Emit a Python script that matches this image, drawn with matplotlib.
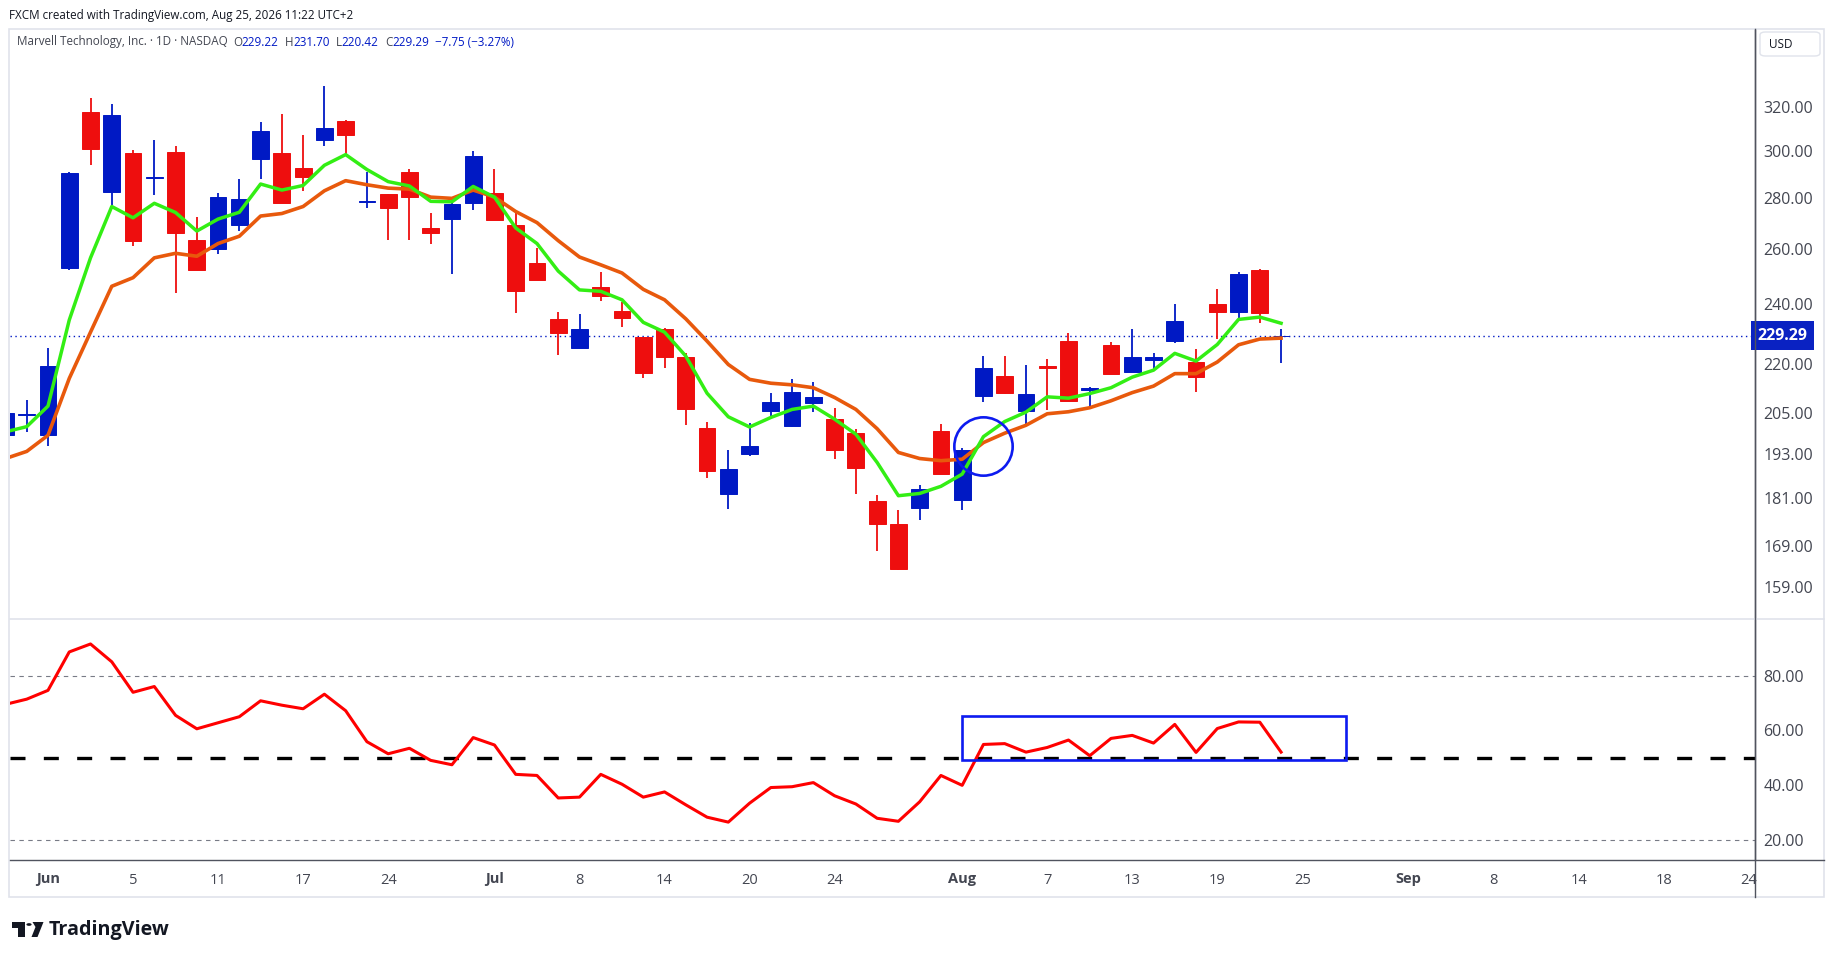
import numpy as np
import pandas as pd
import matplotlib
matplotlib.use("Agg")
import matplotlib.pyplot as plt
from matplotlib.patches import Rectangle, Polygon, Circle, FancyBboxPatch
from matplotlib.lines import Line2D
from matplotlib.ticker import NullLocator, NullFormatter, FixedLocator, FixedFormatter

# ---- data ----
first_date = "2026-05-28"
holidays = ["2026-06-19", "2026-07-03", "2026-09-07"]

opens = [198.6, 204.3, 198.6, 253.0, 317.5, 282.4, 299.1, 288.5, 299.5, 263.5,
         260.2, 269.5, 296.3, 299.1, 292.6, 305.0, 313.4, 278.6, 281.8, 291.0,
         268.2, 271.8, 278.3, 282.2, 269.4, 254.9, 235.0, 225.1, 246.2, 237.7,
         229.0, 231.7, 222.2, 200.5, 182.2, 193.1, 205.5, 201.1, 207.8, 203.1,
         199.0, 180.3, 174.4, 178.6, 199.6, 180.6, 210.1, 216.1, 205.5, 219.3,
         227.7, 212.0, 226.1, 217.4, 221.4, 227.5, 220.6, 240.3, 237.3, 252.4,
         229.22]
highs = [206.0, 208.8, 225.3, 291.0, 324.0, 321.1, 300.3, 304.8, 302.1, 272.5,
         282.2, 287.9, 312.9, 316.5, 307.0, 329.8, 313.9, 291.0, 281.8, 292.1,
         274.1, 278.0, 300.0, 292.1, 274.7, 260.5, 237.3, 236.6, 251.5, 240.7,
         229.0, 231.9, 223.5, 202.3, 194.2, 202.1, 210.9, 215.2, 214.5, 206.3,
         200.1, 181.9, 178.0, 184.5, 201.6, 194.9, 222.8, 222.6, 219.6, 221.8,
         230.1, 212.9, 227.2, 231.4, 223.7, 240.3, 225.0, 245.6, 251.6, 252.6,
         231.70]
lows = [197.0, 199.2, 195.2, 252.4, 293.9, 277.4, 261.3, 281.4, 244.0, 252.4,
        258.4, 267.1, 288.1, 278.3, 283.1, 302.1, 298.8, 276.1, 263.6, 263.6,
        262.2, 250.7, 275.4, 271.4, 237.1, 248.8, 223.0, 225.1, 241.3, 232.1,
        215.5, 218.8, 201.4, 186.5, 178.3, 192.4, 203.7, 200.8, 205.2, 191.6,
        182.1, 167.7, 163.2, 175.5, 187.6, 178.0, 208.2, 210.6, 201.8, 205.7,
        208.6, 207.0, 216.8, 217.4, 218.3, 227.0, 211.3, 228.2, 234.8, 233.6,
        220.42]
closes = [204.9, 204.6, 219.4, 290.5, 301.0, 316.1, 263.0, 288.9, 266.4, 252.4,
          280.5, 279.7, 308.8, 278.3, 288.9, 310.2, 307.1, 279.0, 276.1, 280.7,
          266.4, 277.7, 297.7, 271.4, 244.8, 248.8, 230.3, 231.6, 243.1, 235.4,
          217.3, 222.3, 206.1, 188.4, 188.8, 195.3, 208.1, 211.2, 209.6, 194.2,
          189.2, 174.5, 163.4, 183.4, 187.6, 194.2, 218.7, 211.0, 210.6, 218.8,
          208.6, 212.4, 216.8, 222.2, 222.2, 234.4, 215.9, 237.3, 251.0, 237.04,
          229.29]

ma_fast = [199.4, 200.9, 207.0, 234.6, 256.8, 276.7, 272.2, 278.0, 274.3, 267.0,
           271.7, 274.4, 285.9, 283.4, 285.3, 293.8, 298.4, 292.0, 286.9, 285.1,
           278.8, 278.6, 284.9, 280.5, 268.2, 262.2, 251.9, 245.1, 244.6, 241.6,
           233.8, 230.5, 222.6, 210.9, 203.8, 200.8, 203.6, 206.0, 207.0, 203.1,
           198.7, 190.7, 181.7, 182.3, 184.2, 187.5, 198.0, 202.4, 205.2, 209.8,
           209.4, 210.8, 212.6, 215.9, 218.1, 223.5, 221.0, 226.4, 234.8, 235.6,
           233.5]
ma_slow = [191.8, 193.8, 198.4, 215.5, 230.5, 246.4, 249.5, 256.8, 258.5, 257.4,
           262.2, 265.0, 272.9, 273.9, 276.7, 283.1, 287.3, 285.6, 284.2, 283.8,
           280.5, 280.0, 283.4, 280.5, 274.7, 270.3, 263.3, 257.1, 254.2, 251.2,
           245.3, 241.6, 235.0, 227.5, 219.9, 215.2, 214.0, 213.5, 212.6, 209.6,
           206.0, 200.3, 193.5, 191.8, 191.2, 191.6, 196.3, 199.0, 201.3, 204.7,
           205.3, 206.5, 208.6, 211.1, 213.1, 217.0, 217.0, 220.7, 226.3, 228.2,
           228.5]
rsi = [69.5, 71.4, 74.6, 88.6, 91.5, 85.0, 73.9, 76.0, 65.5, 60.6,
       62.8, 65.0, 70.8, 69.2, 67.9, 73.2, 67.2, 55.9, 51.5, 53.5,
       49.1, 47.5, 57.4, 54.7, 44.0, 43.6, 35.4, 35.7, 44.0, 40.4,
       35.7, 37.6, 32.9, 28.4, 26.6, 33.5, 39.2, 39.5, 41.0, 36.2,
       33.2, 28.0, 26.9, 34.0, 43.6, 40.0, 54.9, 55.2, 52.1, 53.8,
       56.5, 50.8, 57.1, 58.2, 55.4, 62.2, 52.0, 60.7, 63.1, 63.0,
       52.1]

tick_dates = ["2026-06-01", "2026-06-05", "2026-06-11", "2026-06-17", "2026-06-24",
              "2026-07-01", "2026-07-08", "2026-07-14", "2026-07-20", "2026-07-24",
              "2026-08-03", "2026-08-07", "2026-08-13", "2026-08-19", "2026-08-25",
              "2026-09-01", "2026-09-08", "2026-09-14", "2026-09-18", "2026-09-24"]
price_ticks = [159, 169, 181, 193, 205, 220, 240, 260, 280, 300, 320]
rsi_ticks = [20, 40, 60, 80]

circle_date, circle_price = "2026-08-04", 195.4
box_dates = ("2026-08-03", "2026-08-27")
box_rsi = (49.1, 65.3)

header = "FXCM created with TradingView.com, Aug 25, 2026 11:22 UTC+2"
symbol = "Marvell Technology, Inc. \u00b7 1D \u00b7 NASDAQ"

# ---- colours ----
UP = "#0019c4"
DOWN = "#ee0e0e"
GREEN = "#33ee14"
ORANGE = "#e8590c"
RSI_RED = "#ff0000"
MARK_BLUE = "#0d1bf0"
TEXT = "#131722"
GREY = "#434651"
FRAME = "#e0e3eb"
AXIS = "#50535e"

W, H = 1835, 959
plt.rcParams["font.family"] = ["Open Sans", "DejaVu Sans"]

# trading calendar -> bar index (Jun 1 = 0)
days = pd.bdate_range("2026-05-25", "2026-10-15")
days = days[~days.isin(pd.to_datetime(holidays))]
zero = days.get_loc(pd.Timestamp("2026-06-01"))


def bar_of(d):
    return days.get_loc(pd.Timestamp(d)) - zero


n = len(closes)
x = np.arange(n) + bar_of(first_date)
o, hi, lo, c = map(np.array, (opens, highs, lows, closes))


def fx(px):
    return px / W


def fy(py):
    return 1 - py / H


fig = plt.figure(figsize=(W / 100, H / 100), dpi=100)
fig.patch.set_facecolor("white")

# chart frame and pane geometry (pixels)
left, right, top, split, bottom = 10, 1755, 29, 618, 860
ax = fig.add_axes([fx(left), fy(split), fx(right - left), (split - top) / H])
ax2 = fig.add_axes([fx(left), fy(bottom), fx(right - left), (bottom - split - 1) / H], sharex=ax)

x_left = (left - 48) / 21.26
x_right = (right - 48) / 21.26

# ---- price pane ----
ax.set_yscale("log")
ax.set_ylim(152.1, 358.2)
ax.set_xlim(x_left, x_right)

ax.axhline(c[-1], color=UP, lw=1.0, ls=(0, (1, 2.5)), zorder=1)

up = c >= o
cols = np.where(up, UP, DOWN)
ax.vlines(x, lo, hi, colors=cols, lw=1.3, zorder=2)
body_lo = np.minimum(o, c)
body_hi = np.maximum(o, c)
ax.bar(x, body_hi - body_lo, bottom=body_lo, width=0.79, color=cols,
       edgecolor=cols, linewidth=0.7, zorder=3)

ax.plot(x, ma_slow, color=ORANGE, lw=2.6, solid_joinstyle="round", zorder=4)
ax.plot(x, ma_fast, color=GREEN, lw=2.5, solid_joinstyle="round", zorder=5)

ax.plot(bar_of(circle_date), circle_price, marker="o", ms=42, mfc="none",
        mec=MARK_BLUE, mew=1.9, zorder=6)

ax.yaxis.set_major_locator(FixedLocator(price_ticks))
ax.yaxis.set_major_formatter(FixedFormatter([f"{t:.2f}" for t in price_ticks]))
ax.yaxis.set_minor_locator(NullLocator())
ax.yaxis.set_minor_formatter(NullFormatter())
ax.yaxis.tick_right()
ax.tick_params(axis="y", length=0, pad=6, labelsize=11.5, labelcolor=GREY)
ax.tick_params(axis="x", length=0, labelbottom=False)

ax.text(1.0015, c[-1], f"{c[-1]:.2f}", transform=ax.get_yaxis_transform(),
        ha="left", va="center", color="white", fontsize=11.5, fontweight="bold",
        bbox=dict(boxstyle="square,pad=0.42", fc="#0a22c2", ec="none"), zorder=10,
        clip_on=False)

# ---- rsi pane ----
ax2.set_ylim(12.8, 100.6)
ax2.plot(x, rsi, color=RSI_RED, lw=2.2, solid_joinstyle="round", zorder=4)
ax2.axhline(50, color="black", lw=2.4, dashes=(4.5, 5.5), zorder=3)
for lvl in (20, 80):
    ax2.axhline(lvl, color="#787b86", lw=0.8, dashes=(4, 4), zorder=2)

b0, b1 = bar_of(box_dates[0]), bar_of(box_dates[1]) + 0.07
ax2.add_patch(Rectangle((b0, box_rsi[0]), b1 - b0, box_rsi[1] - box_rsi[0],
                        fill=False, ec=MARK_BLUE, lw=1.9, zorder=6))

ax2.yaxis.set_major_locator(FixedLocator(rsi_ticks))
ax2.yaxis.set_major_formatter(FixedFormatter([f"{t:.2f}" for t in rsi_ticks]))
ax2.yaxis.tick_right()
ax2.tick_params(axis="y", length=0, pad=6, labelsize=11.5, labelcolor=GREY)

tpos, tlab = [], []
prev_month = None
for d in tick_dates:
    ts = pd.Timestamp(d)
    tpos.append(bar_of(d))
    tlab.append(ts.strftime("%b") if ts.month != prev_month else str(ts.day))
    prev_month = ts.month
ax2.set_xticks(tpos)
ax2.set_xticklabels(tlab)
ax2.tick_params(axis="x", length=0, pad=9, labelsize=10.5, labelcolor=GREY)
for t in ax2.get_xticklabels():
    if not t.get_text().isdigit():
        t.set_fontweight("bold")

for a in (ax, ax2):
    for s in ("top", "left", "bottom"):
        a.spines[s].set_visible(False)
    a.spines["right"].set_color(AXIS)
    a.spines["right"].set_linewidth(1.0)
    a.set_facecolor("white")

# ---- frame lines ----
frame_r, frame_b = 1824, 897
fig.add_artist(Rectangle((fx(9), fy(frame_b)), fx(frame_r - 9), (frame_b - top) / H,
                         fill=False, ec=FRAME, lw=1.2, transform=fig.transFigure))
fig.add_artist(Line2D([fx(left), fx(frame_r)], [fy(split + 0.5)] * 2, color=FRAME, lw=1.2))
fig.add_artist(Line2D([fx(left), fx(frame_r)], [fy(bottom)] * 2, color=AXIS, lw=1.0))
fig.add_artist(Line2D([fx(right)] * 2, [fy(top), fy(frame_b)], color=AXIS, lw=1.0))

# USD box
fig.add_artist(FancyBboxPatch((fx(1760), fy(56)), fx(60), 24 / H,
                              boxstyle="round,pad=0,rounding_size=0.003",
                              fc="white", ec=FRAME, lw=1.0, transform=fig.transFigure))
fig.text(fx(1769), fy(44), "USD", fontsize=8.5, color=TEXT, va="center", ha="left")

# ---- header and legend ----
fig.text(fx(9), fy(15), header, fontsize=8.4, color=TEXT, va="center", ha="left")

renderer = fig.canvas.get_renderer()
chg = c[-1] - c[-2]
pct = chg / c[-2] * 100
parts = [(symbol, GREY, 5), ("O", GREY, 0), (f"{o[-1]:.2f}", UP, 6),
         ("H", GREY, 0), (f"{hi[-1]:.2f}", UP, 6),
         ("L", GREY, 0), (f"{lo[-1]:.2f}", UP, 6),
         ("C", GREY, 0), (f"{c[-1]:.2f}", UP, 6),
         (f"\u2212{abs(chg):.2f} (\u2212{abs(pct):.2f}%)", UP, 0)]
cx = 17
for txt, col, gap in parts:
    t = fig.text(fx(cx), fy(42), txt, fontsize=8.4, color=col, va="center", ha="left")
    cx += t.get_window_extent(renderer).width + gap

# ---- TradingView logo ----
logo = [
    Polygon([(12, 922), (25, 922), (25, 937), (18, 937), (18, 927.5), (12, 927.5)], closed=True),
    Polygon([(32.5, 922), (43.5, 922), (37.5, 937), (31.5, 937), (35.5, 927)], closed=True),
]
for p in logo:
    p.set_xy(np.column_stack([fx(p.get_xy()[:, 0]), fy(p.get_xy()[:, 1])]))
    p.set_transform(fig.transFigure)
    p.set_facecolor("#131722")
    p.set_edgecolor("none")
    fig.add_artist(p)
fig.add_artist(Circle((fx(29), fy(924.5)), 2.6 / W, transform=fig.transFigure,
                      fc="#131722", ec="none"))
fig.text(fx(49), fy(929.5), "TradingView", fontsize=14.2, fontweight="bold",
         color="#131722", va="center", ha="left")

fig.savefig("out.png", dpi=100, facecolor="white")
